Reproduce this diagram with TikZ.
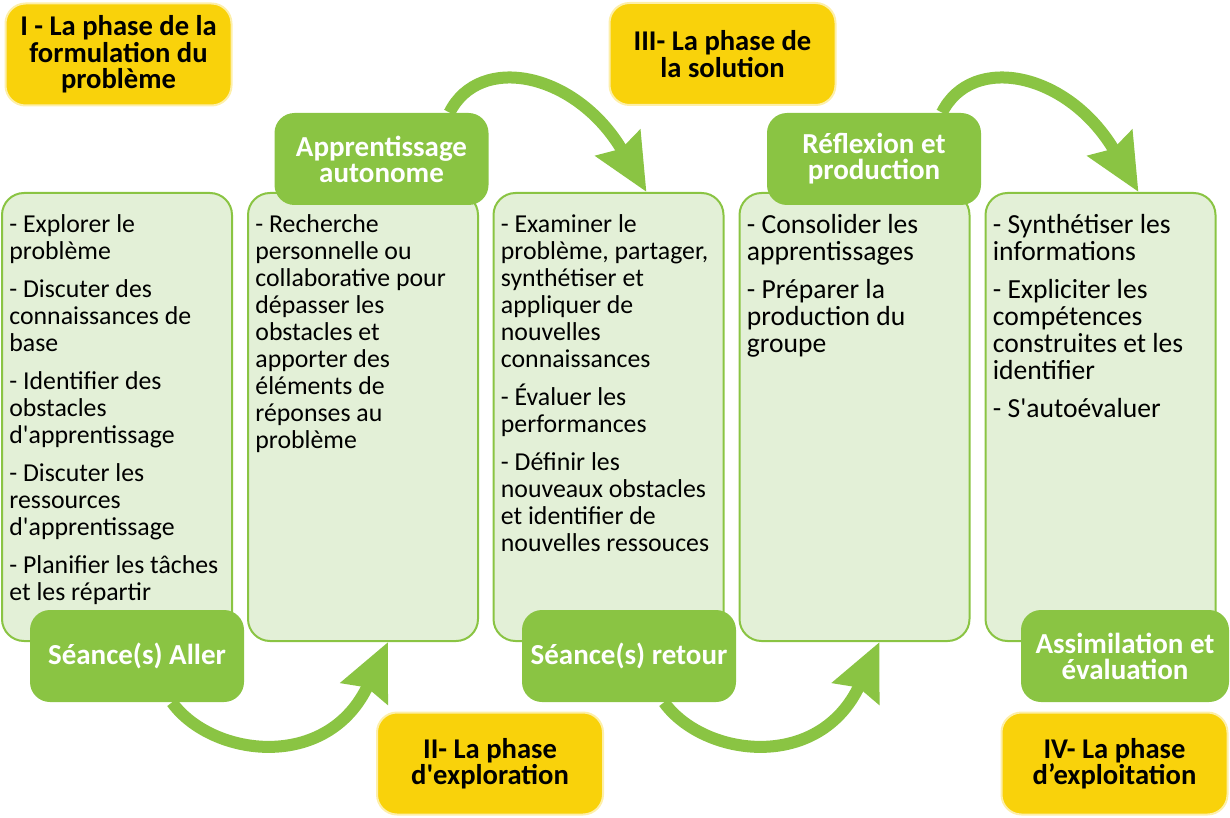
\documentclass[tikz,border=0pt]{standalone}
\usepackage{fontspec}
\setmainfont{Carlito}
\usetikzlibrary{positioning}
\usetikzlibrary{arrows.meta}
\definecolor{phaseyellow}{HTML}{F9D20B}
\definecolor{labelgreen}{HTML}{8AC443}
\definecolor{boxgreen}{HTML}{E3F0D7}
\newcommand{\ap}{\textquotesingle}

\begin{document}
\begin{tikzpicture}[x=0.5pt, y=-0.5pt,
		phasebox/.style={draw=phaseyellow!35, line width=1pt, fill=phaseyellow, rounded corners=10pt, minimum width=113pt, minimum height=51pt, inner sep=2pt, align=center, font=\bfseries\fontsize{14.3}{13.2}\selectfont},
		actlabel/.style={fill=labelgreen, rounded corners=10pt, minimum width=107pt, minimum height=46pt, inner sep=2pt, align=center, text=white, font=\bfseries\fontsize{14.5}{13}\selectfont},
		itembox/.style={draw=labelgreen, line width=1pt, fill=boxgreen, rounded corners=11pt, minimum width=115pt, minimum height=224pt},
		itemtext/.style={anchor=north west, align=left, inner sep=0pt, font=\fontsize{12.9}{13.5}\selectfont},
		cyclearrow/.style={draw=labelgreen, line width=6pt, -{Stealth[length=28pt, width=25pt, inset=3pt]}}]

	\useasboundingbox (0,0) rectangle (1230,818);

	% content boxes
	\node (box1) at (117, 417) [itembox] {};
	\node (box2) at (363, 417) [itembox] {};
	\node (box3) at (608.5, 417) [itembox] {};
	\node (box4) at (854.5, 417) [itembox] {};
	\node (box5) at (1100.5, 417) [itembox] {};

	\node[below right=11pt and 4pt of box1.north west, itemtext] (text1) {- Explorer le\\ problème\\[5.5pt]
		- Discuter des\\ connaissances de\\ base\\[5.5pt]
		- Identifier des\\ obstacles\\ d\ap apprentissage\\[5.5pt]
		- Discuter les\\ ressources\\ d\ap apprentissage\\[5.5pt]
		- Planifier les tâches\\ et les répartir};
	\node[below right=11pt and 4pt of box2.north west, itemtext] (text2) {- Recherche\\ personnelle ou\\ collaborative pour\\ dépasser les\\ obstacles et\\ apporter des\\ éléments de\\ réponses au\\ problème};
	\node[below right=11pt and 4pt of box3.north west, itemtext] (text3) {- Examiner le\\ problème, partager,\\ synthétiser et\\ appliquer de\\ nouvelles\\ connaissances\\[5.5pt]
		- Évaluer les\\ performances\\[5.5pt]
		- Définir les\\ nouveaux obstacles\\ et identifier de\\ nouvelles ressouces};
	\node[below right=11pt and 4pt of box4.north west, itemtext, font=\fontsize{13.8}{13.5}\selectfont] (text4) {- Consolider les\\ apprentissages\\[5.5pt]
		- Préparer la\\ production du\\ groupe};
	\node[below right=11pt and 4pt of box5.north west, itemtext, font=\fontsize{13.8}{13.5}\selectfont] (text5) {- Synthétiser les\\ informations\\[5.5pt]
		- Expliciter les\\ compétences\\ construites et les\\ identifier\\[5.5pt]
		- S\ap autoévaluer};

	% phases
	\node (phase1) at (118.5, 54.5) [phasebox] {I - La phase de la\\ formulation du\\ problème};
	\node (phase3) at (722.5, 54) [phasebox] {III- La phase de\\ la solution};
	\node (phase2) at (490, 763.5) [phasebox] {II- La phase\\ d\ap exploration};
	\node (phase4) at (1114.5, 763.5) [phasebox] {IV- La phase\\ d’exploitation};

	% activity labels
	\node (autonome) at (381.5, 159) [actlabel] {Apprentissage\\ autonome};
	\node (reflexion) at (874, 159) [actlabel] {Réflexion et\\ production};
	\node (aller) at (137, 656) [actlabel] {Séance(s) Aller};
	\node (retour) at (629, 656) [actlabel] {Séance(s) retour};
	\node (assimilation) at (1125, 656) [actlabel, minimum width=104pt] {Assimilation et\\ évaluation};

	% arrows
	\draw [cyclearrow] ([xshift=17.5pt]aller.south) .. controls +(40,55) and +(-60,130) .. ([xshift=12.5pt]box2.south);
	\draw [cyclearrow] ([xshift=34pt]autonome.north) .. controls +(30,-60) and +(-70,-120) .. ([xshift=19pt]box3.north);
	\draw [cyclearrow] ([xshift=17.5pt]retour.south) .. controls +(40,55) and +(-60,130) .. ([xshift=12.5pt]box4.south);
	\draw [cyclearrow] ([xshift=34pt]reflexion.north) .. controls +(30,-60) and +(-70,-120) .. ([xshift=19pt]box5.north);

\end{tikzpicture}
\end{document}
